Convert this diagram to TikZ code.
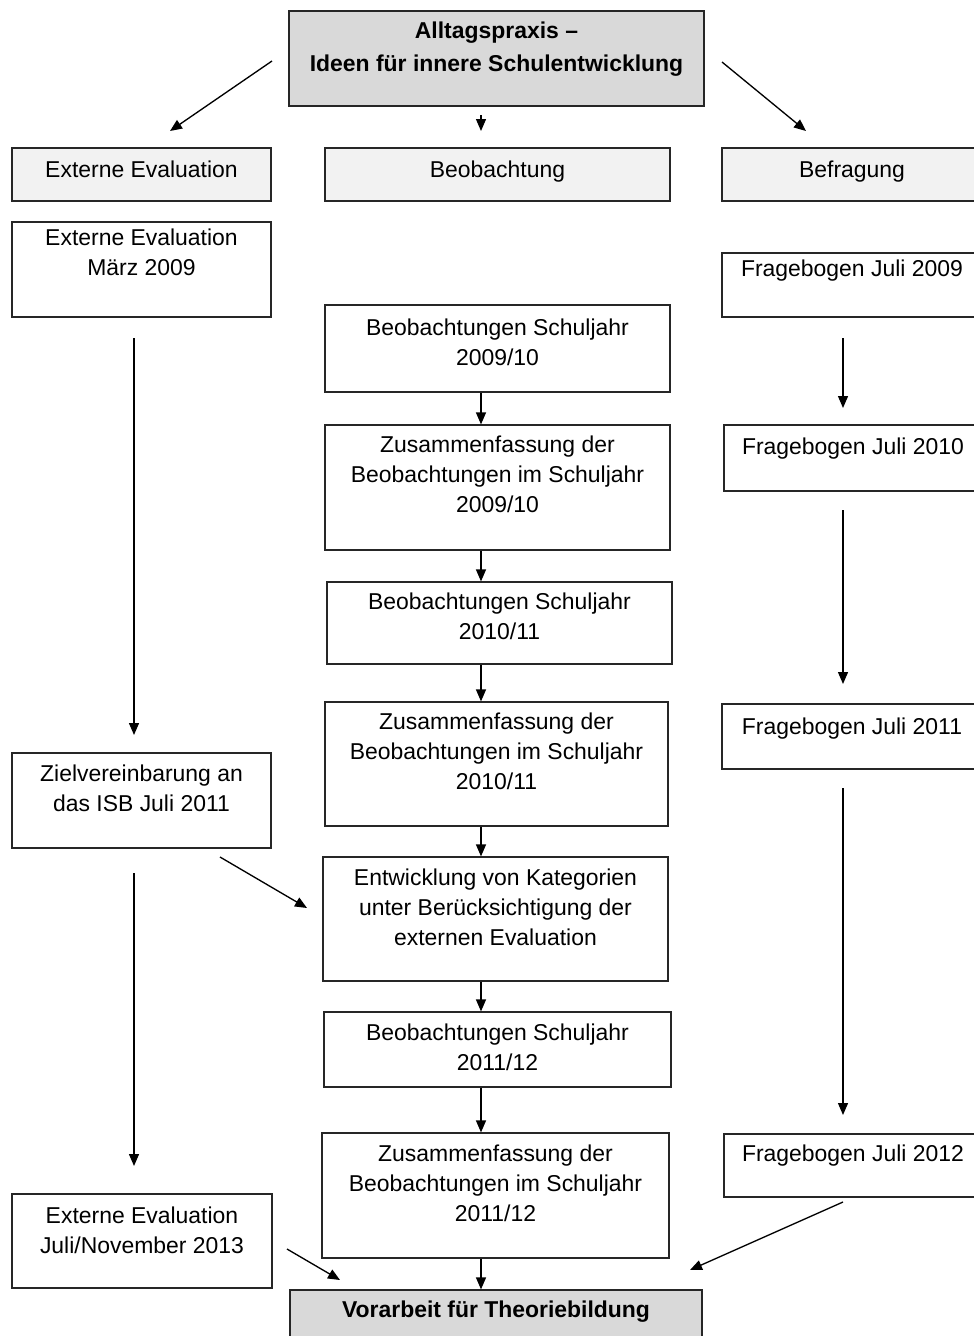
\documentclass[tikz,border=0pt]{standalone}
\usepackage{fontspec}
\setmainfont{Liberation Sans}
\usetikzlibrary{arrows.meta,fit}
\definecolor{topgray}{gray}{0.85}
\definecolor{headgray}{gray}{0.95}
\tikzset{
  box/.style={draw=black!85, line width=0.9pt, inner sep=0pt, fill=white},
  topbox/.style={box, fill=topgray},
  headbox/.style={box, fill=headgray},
  txt/.style={inner sep=0pt, anchor=north, align=center, font=\fontsize{17.2}{22.5}\selectfont},
  btxt/.style={inner sep=0pt, anchor=north, align=center, font=\fontsize{17.2}{24.5}\selectfont\bfseries},
  arr/.style={line width=1pt, -{Triangle[length=9pt,width=7.5pt]}},
}
\begin{document}
\begin{tikzpicture}[x=0.75pt,y=-0.75pt]
\useasboundingbox (0,0) rectangle (974,1336);
\clip (0,0) rectangle (974,1336);
% boxes
\node[topbox, fit={(289,11) (704,106)}] (top) {};
\node[btxt] (topt) at (496.5,22) {Alltagspraxis --\\Ideen für innere Schulentwicklung};

\node[headbox, fit={(12,148) (271,201)}] (h1) {};
\node[txt] (h1t) at (141.5,161) {Externe Evaluation};
\node[headbox, fit={(325,148) (670,201)}] (h2) {};
\node[txt] (h2t) at (497.5,161) {Beobachtung};
\node[headbox, fit={(722,148) (982,201)}] (h3) {};
\node[txt] (h3t) at (852,161) {Befragung};

\node[box, fit={(12,222) (271,317)}] (ee1) {};
\node[txt] (ee1t) at (141.5,229) {Externe Evaluation\\März 2009};
\node[box, fit={(722,253) (982,317)}] (fb09) {};
\node[txt] (fb09t) at (852,260) {Fragebogen Juli 2009};

\node[box, fit={(325,305) (670,392)}] (b0910) {};
\node[txt] (b0910t) at (497.5,319) {Beobachtungen Schuljahr\\2009/10};
\node[box, fit={(325,425) (670,550)}] (z0910) {};
\node[txt] (z0910t) at (497.5,436) {Zusammenfassung der\\Beobachtungen im Schuljahr\\2009/10};
\node[box, fit={(724,425) (982,491)}] (fb10) {};
\node[txt] (fb10t) at (853,438) {Fragebogen Juli 2010};

\node[box, fit={(327,582) (672,664)}] (b1011) {};
\node[txt] (b1011t) at (499.5,593) {Beobachtungen Schuljahr\\2010/11};
\node[box, fit={(325,702) (668,826)}] (z1011) {};
\node[txt] (z1011t) at (496.5,713) {Zusammenfassung der\\Beobachtungen im Schuljahr\\2010/11};
\node[box, fit={(722,704) (982,769)}] (fb11) {};
\node[txt] (fb11t) at (852,718) {Fragebogen Juli 2011};

\node[box, fit={(12,753) (271,848)}] (ziel) {};
\node[txt] (zielt) at (141.5,765) {Zielvereinbarung an\\das ISB Juli 2011};
\node[box, fit={(323,857) (668,981)}] (ent) {};
\node[txt] (entt) at (495.5,869) {Entwicklung von Kategorien\\unter Berücksichtigung der\\externen Evaluation};

\node[box, fit={(324,1012) (671,1087)}] (b1112) {};
\node[txt] (b1112t) at (497.5,1024) {Beobachtungen Schuljahr\\2011/12};
\node[box, fit={(322,1133) (669,1258)}] (z1112) {};
\node[txt] (z1112t) at (495.5,1145) {Zusammenfassung der\\Beobachtungen im Schuljahr\\2011/12};
\node[box, fit={(724,1134) (982,1197)}] (fb12) {};
\node[txt] (fb12t) at (853,1145) {Fragebogen Juli 2012};

\node[box, fit={(12,1194) (272,1288)}] (ee2) {};
\node[txt] (ee2t) at (142,1207) {Externe Evaluation\\Juli/November 2013};

\node[topbox, fit={(290,1290) (702,1345)}] (vor) {};
\node[btxt] (vort) at (496,1301) {Vorarbeit für Theoriebildung};

% free arrow ends
\coordinate (axis) at (481,0);
\coordinate (a1s) at (272,61);  \coordinate (a1e) at (170,131);
\coordinate (a2s) at (481,115); \coordinate (a2e) at (481,131);
\coordinate (a3s) at (722,62);  \coordinate (a3e) at (806,131);
\coordinate (l1s) at (134,338); \coordinate (l1e) at (134,735);
\coordinate (l2s) at (134,873); \coordinate (l2e) at (134,1166);
\coordinate (d1s) at (220,857); \coordinate (d1e) at (307,908);
\coordinate (r1s) at (843,338); \coordinate (r1e) at (843,408);
\coordinate (r2s) at (843,510); \coordinate (r2e) at (843,684);
\coordinate (r3s) at (843,788); \coordinate (r3e) at (843,1115);
\coordinate (d2s) at (287,1249); \coordinate (d2e) at (340,1280);
\coordinate (d3s) at (843,1202); \coordinate (d3e) at (690,1270);

\draw[arr] (a1s) -- (a1e);
\draw[arr] (a2s) -- (a2e);
\draw[arr] (a3s) -- (a3e);
\draw[arr] (l1s) -- (l1e);
\draw[arr] (l2s) -- (l2e);
\draw[arr] (d1s) -- (d1e);
\draw[arr] (r1s) -- (r1e);
\draw[arr] (r2s) -- (r2e);
\draw[arr] (r3s) -- (r3e);
\draw[arr] (d2s) -- (d2e);
\draw[arr] (d3s) -- (d3e);

\draw[arr] (b0910.south -| axis) -- (z0910.north -| axis);
\draw[arr] (z0910.south -| axis) -- (b1011.north -| axis);
\draw[arr] (b1011.south -| axis) -- (z1011.north -| axis);
\draw[arr] (z1011.south -| axis) -- (ent.north -| axis);
\draw[arr] (ent.south -| axis) -- (b1112.north -| axis);
\draw[arr] (b1112.south -| axis) -- (z1112.north -| axis);
\draw[arr] (z1112.south -| axis) -- (vor.north -| axis);
\end{tikzpicture}
\end{document}
